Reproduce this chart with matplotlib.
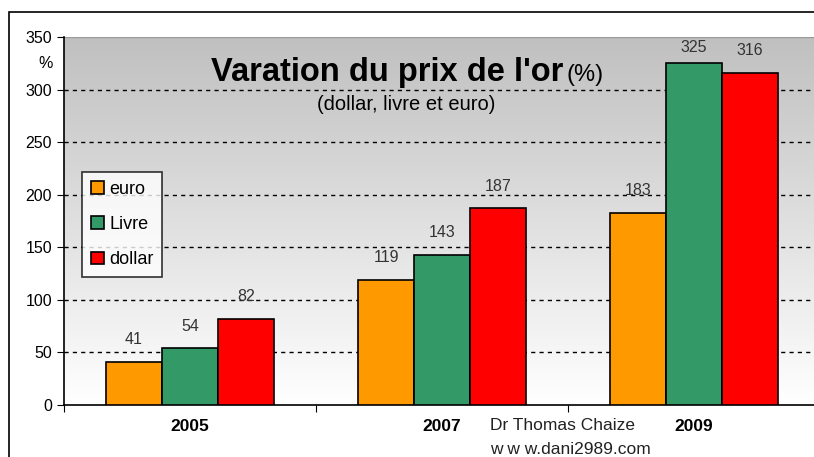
import numpy as np
import matplotlib
matplotlib.use("Agg")
import matplotlib.pyplot as plt
from matplotlib.patches import Rectangle

plt.rcParams["font.family"] = ["Liberation Sans", "DejaVu Sans"]

# donnees
annees = ["2005", "2007", "2009"]
euro = [41, 119, 183]
livre = [54, 143, 325]
dollar = [82, 187, 316]
series = [("euro", euro, "#FF9900"), ("Livre", livre, "#339966"), ("dollar", dollar, "#FF0000")]

fig = plt.figure(figsize=(8.14, 4.57), dpi=100)
fig.patch.set_facecolor("white")

# cadre exterieur du graphique
fig.patches.append(Rectangle((9 / 814, -0.1), 1.1, 1.1 - 12 / 457,
                             transform=fig.transFigure, fill=False,
                             edgecolor="black", lw=1.2, zorder=0))

ax = fig.add_axes([64 / 814, 1 - 405 / 457, 756 / 814, 368 / 457])

# fond en degrade gris (haut) -> blanc (bas)
grad = np.linspace(0, 1, 256).reshape(-1, 1)
cm = matplotlib.colors.LinearSegmentedColormap.from_list("g", ["#ffffff", "#c0c0c0"])
ax.imshow(grad, cmap=cm, origin="lower", aspect="auto",
          extent=[0, 3, 0, 350], zorder=0)

w = 0.222
x = np.arange(len(annees)) + 0.5
for i, (nom, vals, col) in enumerate(series):
    pos = x + (i - 1) * w
    bars = ax.bar(pos, vals, width=w, color=col, edgecolor="black", lw=1.2,
                  label=nom, zorder=3)
    for b, v in zip(bars, vals):
        # etiquette au-dessus de la barre, bloquee sous le haut du graphique
        ax.text(b.get_x() + b.get_width() / 2, min(v + 21, 340), str(v),
                ha="center", va="center", fontsize=11.5, color="#333333",
                zorder=4)

ax.set_xlim(0, 3)
ax.set_ylim(0, 350)
ax.set_yticks(range(0, 351, 50))
ax.tick_params(axis="y", labelsize=11.5, length=5, direction="out")
for y in range(50, 301, 50):
    ax.axhline(y, color="black", ls=(0, (3, 3)), lw=1, zorder=1)
ax.axhline(350, color="#999999", lw=1, zorder=1)

ax.set_xticks([0, 1, 2, 3])
ax.set_xticklabels([])
ax.tick_params(axis="x", length=5, direction="out")
for xi, a in zip(x, annees):
    ax.text(xi, -13, a, ha="center", va="top", fontsize=12.5,
            fontweight="bold", transform=ax.transData)

for s in ["top", "right"]:
    ax.spines[s].set_visible(False)
ax.spines["left"].set_linewidth(1.2)
ax.spines["bottom"].set_linewidth(1.2)

# titres
fig.text(563 / 814, 1 - 73 / 457, "Varation du prix de l'or", ha="right",
         va="center", fontsize=23.5, fontweight="bold")
fig.text(567 / 814, 1 - 75 / 457, "(%)", ha="left", va="center", fontsize=17)
fig.text(406 / 814, 1 - 104 / 457, "(dollar, livre et euro)", ha="center",
         va="center", fontsize=14.5)
fig.text(46 / 814, 1 - 63 / 457, "%", ha="center", va="center", fontsize=11.5)

fig.text(490 / 814, 1 - 425 / 457, "Dr Thomas Chaize", ha="left",
         va="center", fontsize=12.5, color="#222222")
fig.text(490 / 814, 1 - 449 / 457, "w w w.dani2989.com", ha="left",
         va="center", fontsize=12.5, color="#222222")

leg = ax.legend(loc="upper left", bbox_to_anchor=(18 / 756, 1 - 135 / 368),
                fontsize=13, frameon=True, fancybox=False, edgecolor="black",
                handlelength=0.7, handleheight=0.7, handletextpad=0.3,
                labelspacing=1.0, borderpad=0.5, borderaxespad=0)
leg.get_frame().set_linewidth(1.2)
leg.set_zorder(5)

fig.savefig("out.png", dpi=100)
